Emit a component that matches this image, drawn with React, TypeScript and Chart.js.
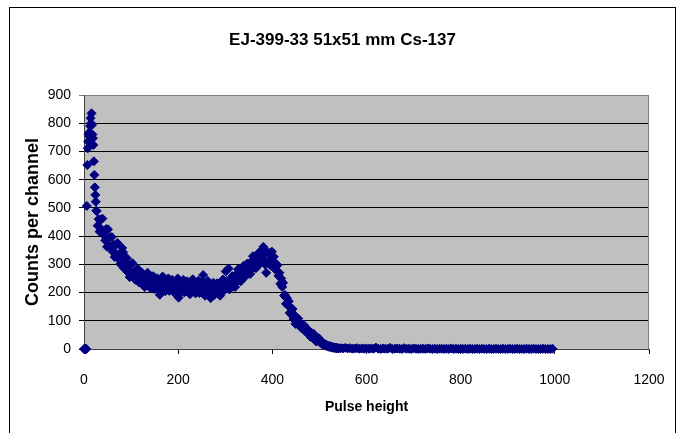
import React, { useEffect, useRef } from 'react';
import { Chart, registerables } from 'chart.js';

Chart.register(...registerables);

const chartTitle = 'EJ-399-33 51x51 mm Cs-137';
const xAxisTitle = 'Pulse height';
const yAxisTitle = 'Counts per channel';
const xTickValues = [0, 200, 400, 600, 800, 1000, 1200];
const yTickValues = [0, 100, 200, 300, 400, 500, 600, 700, 800, 900];

// channels 0..26, one per channel
const headStart = 0;
const headStep = 1;
const headCounts = [0, 0, 0, 0, 0, 0, 507, 652, 711, 735, 760, 767, 752, 790, 818, 800, 835, 794, 760, 747, 723, 665, 617, 573, 546, 522, 490];

// channels 27..541, every 2nd channel
const bodyStart = 27;
const bodyStep = 2;
const bodyCounts = [
  // 27..99
  489, 437, 460, 416, 457, 424, 462, 405, 419, 385,
  425, 362, 424, 365, 396, 364, 397, 345, 369, 326,
  369, 337, 376, 320, 334, 301, 341, 358, 343, 286,
  318, 288, 322, 272, 297, 255, 299,
  // 101..399
  271, 304, 259, 272, 245, 281, 258, 283, 236, 263,
  239, 270, 230, 253, 220, 258, 235, 270, 226, 241,
  216, 252, 231, 258, 213, 242, 219, 251, 213, 236,
  192, 243, 221, 257, 214, 230, 205, 243, 223, 250,
  206, 235, 213, 245, 206, 230, 197, 237, 215, 250,
  182, 224, 200, 237, 217, 245, 201, 231, 209, 240,
  202, 226, 194, 234, 211, 247, 205, 221, 197, 235,
  215, 242, 198, 228, 206, 238, 262, 222, 189, 228,
  206, 241, 198, 213, 180, 226, 207, 235, 192, 222,
  201, 233, 196, 220, 189, 230, 209, 246, 206, 223,
  275, 241, 223, 285, 211, 243, 224, 258, 223, 250,
  220, 263, 243, 282, 243, 261, 240, 281, 264, 295,
  254, 287, 268, 303, 268, 295, 266, 309, 290, 329,
  289, 308, 286, 327, 310, 341, 301, 335, 317, 353,
  362, 335, 299, 270, 309, 343, 302, 318, 295, 345,
  // 401..449
  312, 327, 285, 303, 278, 297, 259, 270, 231, 250,
  220, 235, 189, 191, 160, 181, 156, 169, 128, 145,
  121, 142, 106, 120, 89,
  // 451..499
  112, 98, 108, 87, 89, 75, 87, 76, 85, 64,
  72, 60, 70, 52, 58, 43, 56, 44, 55, 35,
  40, 27, 39, 29, 38,
  // 501..541
  23, 28, 18, 22, 14, 18, 12, 15, 9, 12,
  7, 10, 6, 8, 4, 6, 3, 5, 2, 4,
  2,
];

// channels 545..995, every 5th channel
const tailStart = 545;
const tailStep = 5;
const tailCounts = [
  3, 2, 4, 2, 3, 1, 2, 3, 1, 2, 1, 2,
  1, 2, 1, 5, 1, 0, 2, 1, 1, 4, 0, 1, 2, 1, 0, 3, 1, 1, 0, 2,
  1, 0, 1, 1, 0, 2, 1, 0, 1, 0, 1, 1, 0, 1, 0, 2, 0, 1, 0, 1,
  0, 1, 0, 1, 0, 0, 1, 0, 1, 0, 0, 1, 0, 0, 1, 0, 0, 1, 0, 0,
  1, 0, 0, 1, 0, 0, 0, 1, 0, 0, 1, 0, 0, 0, 1, 0, 0, 0, 1,
];

const FONT = '"Liberation Sans", Arial, Helvetica, sans-serif';
const MARKER = '#000080';

function segment(start: number, step: number, counts: number[]) {
  return counts.map((c, i) => ({ x: start + i * step, y: c }));
}

const framePlugin = {
  id: 'frame',
  beforeDraw(chart: any) {
    const { ctx, chartArea } = chart;
    ctx.save();
    ctx.fillStyle = '#ffffff';
    ctx.fillRect(0, 0, chart.width, chart.height);
    ctx.strokeStyle = '#000000';
    ctx.lineWidth = 1;
    ctx.strokeRect(9.5, 7.5, 666, 460);
    ctx.fillStyle = '#C0C0C0';
    ctx.fillRect(chartArea.left, chartArea.top, chartArea.right - chartArea.left, chartArea.bottom - chartArea.top);
    ctx.restore();
  },
  beforeDatasetsDraw(chart: any) {
    const { ctx, chartArea } = chart;
    ctx.save();
    ctx.strokeStyle = '#808080';
    ctx.lineWidth = 1;
    ctx.beginPath();
    ctx.moveTo(Math.round(chartArea.right) - 0.5, chartArea.top);
    ctx.lineTo(Math.round(chartArea.right) - 0.5, chartArea.bottom);
    ctx.stroke();
    ctx.restore();
  },
  afterDraw(chart: any) {
    const { ctx } = chart;
    ctx.save();
    ctx.fillStyle = '#000000';
    ctx.font = `bold 17px ${FONT}`;
    ctx.textAlign = 'center';
    ctx.textBaseline = 'middle';
    ctx.fillText(chartTitle, 342.5, 40);
    ctx.restore();
  },
};

export default function App() {
  const canvasRef = useRef<HTMLCanvasElement | null>(null);

  useEffect(() => {
    document.body.style.margin = '0';
    const canvas = canvasRef.current;
    if (!canvas) return;
    const points = [
      ...segment(headStart, headStep, headCounts),
      ...segment(bodyStart, bodyStep, bodyCounts),
      ...segment(tailStart, tailStep, tailCounts),
    ];
    const chart = new Chart(canvas, {
      type: 'scatter',
      data: {
        datasets: [
          {
            data: points,
            pointStyle: 'rectRot',
            pointRadius: 4.5,
            pointHoverRadius: 4.5,
            pointBorderWidth: 1,
            backgroundColor: MARKER,
            borderColor: MARKER,
            clip: false as any,
          },
        ],
      },
      options: {
        animation: false,
        responsive: false,
        devicePixelRatio: 1,
        events: [],
        layout: { padding: { left: 0, right: 31, top: 95, bottom: 0 } },
        plugins: {
          legend: { display: false },
          tooltip: { enabled: false },
          title: { display: false },
        },
        scales: {
          x: {
            type: 'linear',
            min: 0,
            max: 1200,
            afterBuildTicks: (scale: any) => {
              scale.ticks = xTickValues.map((v) => ({ value: v }));
            },
            afterFit: (scale: any) => {
              scale.height = 84;
              scale.paddingLeft = 0;
              scale.paddingRight = 0;
            },
            ticks: {
              color: '#000000',
              font: { family: FONT, size: 14 },
              padding: 18,
              maxRotation: 0,
              autoSkip: false,
              callback: (v: any) => String(v),
            },
            grid: {
              drawOnChartArea: false,
              drawTicks: true,
              tickLength: 5,
              color: '#000000',
            },
            border: { display: true, color: '#404040', width: 1 },
            title: {
              display: true,
              text: xAxisTitle,
              color: '#000000',
              font: { family: FONT, size: 14, weight: 'bold' },
              padding: { top: 0, bottom: 17 },
            },
          },
          y: {
            type: 'linear',
            min: 0,
            max: 900,
            afterBuildTicks: (scale: any) => {
              scale.ticks = yTickValues.map((v) => ({ value: v }));
            },
            afterFit: (scale: any) => {
              scale.width = 84;
            },
            ticks: {
              color: '#000000',
              font: { family: FONT, size: 14 },
              padding: 8,
              autoSkip: false,
              callback: (v: any) => String(v),
            },
            grid: {
              drawTicks: true,
              tickLength: 5,
              color: (ctx: any) => (ctx.tick && ctx.tick.value === 900 ? '#808080' : '#000000'),
            },
            border: { display: true, color: '#404040', width: 1 },
            title: {
              display: true,
              text: yAxisTitle,
              color: '#000000',
              font: { family: FONT, size: 18, weight: 'bold' },
              padding: { top: 22, bottom: 0 },
            },
          },
        },
      } as any,
      plugins: [framePlugin],
    });
    return () => chart.destroy();
  }, []);

  return (
    <div style={{ width: 680, height: 433 }}>
      <canvas ref={canvasRef} width={680} height={433} style={{ display: 'block' }} />
    </div>
  );
}
